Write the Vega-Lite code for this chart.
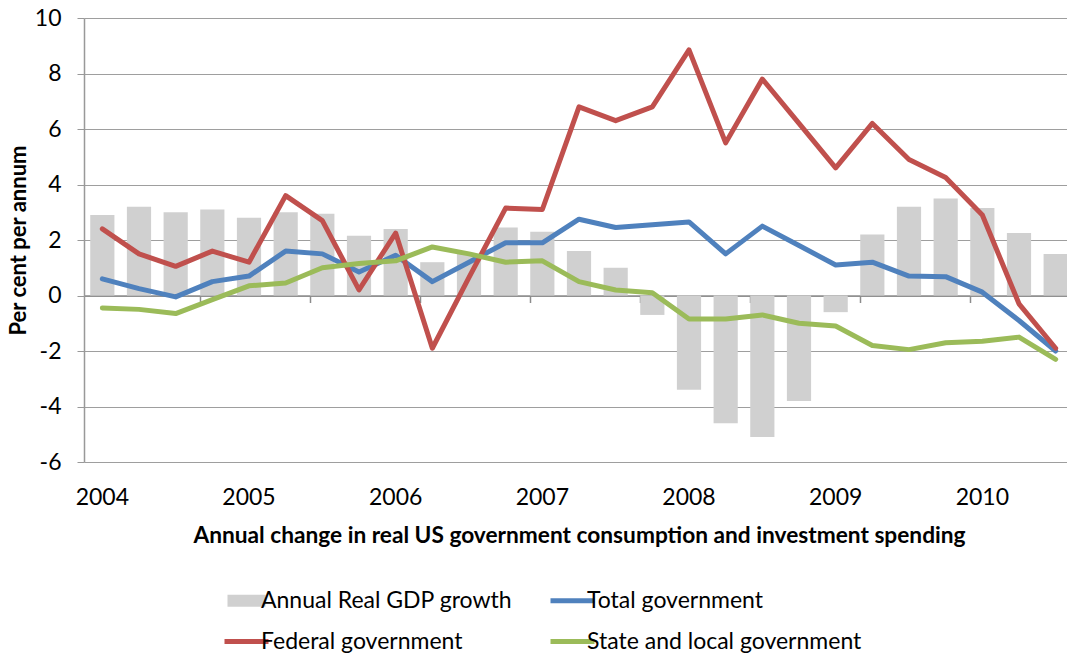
{
  "$schema": "https://vega.github.io/schema/vega-lite/v6.json",
  "width": 990,
  "height": 444,
  "autosize": "none",
  "padding": {"left": 84, "top": 18, "right": -7, "bottom": 195},
  "background": "white",
  "config": {
    "font": "Lato",
    "view": {"stroke": null},
    "axis": {"labelColor": "#000000", "titleColor": "#000000", "labelFont": "Lato", "titleFont": "Lato"}
  },
  "datasets": {
    "gdp": [
      {"quarter": "2004Q1", "series": "Annual Real GDP growth", "value": 2.9},
      {"quarter": "2004Q2", "series": "Annual Real GDP growth", "value": 3.2},
      {"quarter": "2004Q3", "series": "Annual Real GDP growth", "value": 3.0},
      {"quarter": "2004Q4", "series": "Annual Real GDP growth", "value": 3.1},
      {"quarter": "2005Q1", "series": "Annual Real GDP growth", "value": 2.8},
      {"quarter": "2005Q2", "series": "Annual Real GDP growth", "value": 3.0},
      {"quarter": "2005Q3", "series": "Annual Real GDP growth", "value": 2.95},
      {"quarter": "2005Q4", "series": "Annual Real GDP growth", "value": 2.15},
      {"quarter": "2006Q1", "series": "Annual Real GDP growth", "value": 2.4},
      {"quarter": "2006Q2", "series": "Annual Real GDP growth", "value": 1.2},
      {"quarter": "2006Q3", "series": "Annual Real GDP growth", "value": 1.5},
      {"quarter": "2006Q4", "series": "Annual Real GDP growth", "value": 2.45},
      {"quarter": "2007Q1", "series": "Annual Real GDP growth", "value": 2.3},
      {"quarter": "2007Q2", "series": "Annual Real GDP growth", "value": 1.6},
      {"quarter": "2007Q3", "series": "Annual Real GDP growth", "value": 1.0},
      {"quarter": "2007Q4", "series": "Annual Real GDP growth", "value": -0.7},
      {"quarter": "2008Q1", "series": "Annual Real GDP growth", "value": -3.4},
      {"quarter": "2008Q2", "series": "Annual Real GDP growth", "value": -4.6},
      {"quarter": "2008Q3", "series": "Annual Real GDP growth", "value": -5.1},
      {"quarter": "2008Q4", "series": "Annual Real GDP growth", "value": -3.8},
      {"quarter": "2009Q1", "series": "Annual Real GDP growth", "value": -0.6},
      {"quarter": "2009Q2", "series": "Annual Real GDP growth", "value": 2.2},
      {"quarter": "2009Q3", "series": "Annual Real GDP growth", "value": 3.2},
      {"quarter": "2009Q4", "series": "Annual Real GDP growth", "value": 3.5},
      {"quarter": "2010Q1", "series": "Annual Real GDP growth", "value": 3.15},
      {"quarter": "2010Q2", "series": "Annual Real GDP growth", "value": 2.25},
      {"quarter": "2010Q3", "series": "Annual Real GDP growth", "value": 1.5}
    ],
    "gov": [
      {"quarter": "2004Q1", "series": "Total government", "value": 0.6},
      {"quarter": "2004Q2", "series": "Total government", "value": 0.25},
      {"quarter": "2004Q3", "series": "Total government", "value": -0.05},
      {"quarter": "2004Q4", "series": "Total government", "value": 0.5},
      {"quarter": "2005Q1", "series": "Total government", "value": 0.7},
      {"quarter": "2005Q2", "series": "Total government", "value": 1.6},
      {"quarter": "2005Q3", "series": "Total government", "value": 1.5},
      {"quarter": "2005Q4", "series": "Total government", "value": 0.85},
      {"quarter": "2006Q1", "series": "Total government", "value": 1.45},
      {"quarter": "2006Q2", "series": "Total government", "value": 0.5},
      {"quarter": "2006Q3", "series": "Total government", "value": 1.2},
      {"quarter": "2006Q4", "series": "Total government", "value": 1.9},
      {"quarter": "2007Q1", "series": "Total government", "value": 1.9},
      {"quarter": "2007Q2", "series": "Total government", "value": 2.75},
      {"quarter": "2007Q3", "series": "Total government", "value": 2.45},
      {"quarter": "2007Q4", "series": "Total government", "value": 2.55},
      {"quarter": "2008Q1", "series": "Total government", "value": 2.65},
      {"quarter": "2008Q2", "series": "Total government", "value": 1.5},
      {"quarter": "2008Q3", "series": "Total government", "value": 2.5},
      {"quarter": "2008Q4", "series": "Total government", "value": 1.8},
      {"quarter": "2009Q1", "series": "Total government", "value": 1.1},
      {"quarter": "2009Q2", "series": "Total government", "value": 1.2},
      {"quarter": "2009Q3", "series": "Total government", "value": 0.7},
      {"quarter": "2009Q4", "series": "Total government", "value": 0.68},
      {"quarter": "2010Q1", "series": "Total government", "value": 0.12},
      {"quarter": "2010Q2", "series": "Total government", "value": -0.9},
      {"quarter": "2010Q3", "series": "Total government", "value": -2.0},
      {"quarter": "2004Q1", "series": "Federal government", "value": 2.4},
      {"quarter": "2004Q2", "series": "Federal government", "value": 1.5},
      {"quarter": "2004Q3", "series": "Federal government", "value": 1.05},
      {"quarter": "2004Q4", "series": "Federal government", "value": 1.6},
      {"quarter": "2005Q1", "series": "Federal government", "value": 1.2},
      {"quarter": "2005Q2", "series": "Federal government", "value": 3.6},
      {"quarter": "2005Q3", "series": "Federal government", "value": 2.7},
      {"quarter": "2005Q4", "series": "Federal government", "value": 0.2},
      {"quarter": "2006Q1", "series": "Federal government", "value": 2.25},
      {"quarter": "2006Q2", "series": "Federal government", "value": -1.9},
      {"quarter": "2006Q3", "series": "Federal government", "value": 0.65},
      {"quarter": "2006Q4", "series": "Federal government", "value": 3.15},
      {"quarter": "2007Q1", "series": "Federal government", "value": 3.1},
      {"quarter": "2007Q2", "series": "Federal government", "value": 6.8},
      {"quarter": "2007Q3", "series": "Federal government", "value": 6.3},
      {"quarter": "2007Q4", "series": "Federal government", "value": 6.8},
      {"quarter": "2008Q1", "series": "Federal government", "value": 8.85},
      {"quarter": "2008Q2", "series": "Federal government", "value": 5.5},
      {"quarter": "2008Q3", "series": "Federal government", "value": 7.8},
      {"quarter": "2008Q4", "series": "Federal government", "value": 6.2},
      {"quarter": "2009Q1", "series": "Federal government", "value": 4.6},
      {"quarter": "2009Q2", "series": "Federal government", "value": 6.2},
      {"quarter": "2009Q3", "series": "Federal government", "value": 4.9},
      {"quarter": "2009Q4", "series": "Federal government", "value": 4.25},
      {"quarter": "2010Q1", "series": "Federal government", "value": 2.9},
      {"quarter": "2010Q2", "series": "Federal government", "value": -0.3},
      {"quarter": "2010Q3", "series": "Federal government", "value": -1.9},
      {"quarter": "2004Q1", "series": "State and local government", "value": -0.45},
      {"quarter": "2004Q2", "series": "State and local government", "value": -0.5},
      {"quarter": "2004Q3", "series": "State and local government", "value": -0.65},
      {"quarter": "2004Q4", "series": "State and local government", "value": -0.15},
      {"quarter": "2005Q1", "series": "State and local government", "value": 0.35},
      {"quarter": "2005Q2", "series": "State and local government", "value": 0.45},
      {"quarter": "2005Q3", "series": "State and local government", "value": 1.0},
      {"quarter": "2005Q4", "series": "State and local government", "value": 1.15},
      {"quarter": "2006Q1", "series": "State and local government", "value": 1.25},
      {"quarter": "2006Q2", "series": "State and local government", "value": 1.75},
      {"quarter": "2006Q3", "series": "State and local government", "value": 1.5},
      {"quarter": "2006Q4", "series": "State and local government", "value": 1.2},
      {"quarter": "2007Q1", "series": "State and local government", "value": 1.25},
      {"quarter": "2007Q2", "series": "State and local government", "value": 0.5},
      {"quarter": "2007Q3", "series": "State and local government", "value": 0.2},
      {"quarter": "2007Q4", "series": "State and local government", "value": 0.1},
      {"quarter": "2008Q1", "series": "State and local government", "value": -0.85},
      {"quarter": "2008Q2", "series": "State and local government", "value": -0.85},
      {"quarter": "2008Q3", "series": "State and local government", "value": -0.7},
      {"quarter": "2008Q4", "series": "State and local government", "value": -1.0},
      {"quarter": "2009Q1", "series": "State and local government", "value": -1.1},
      {"quarter": "2009Q2", "series": "State and local government", "value": -1.8},
      {"quarter": "2009Q3", "series": "State and local government", "value": -1.95},
      {"quarter": "2009Q4", "series": "State and local government", "value": -1.7},
      {"quarter": "2010Q1", "series": "State and local government", "value": -1.65},
      {"quarter": "2010Q2", "series": "State and local government", "value": -1.5},
      {"quarter": "2010Q3", "series": "State and local government", "value": -2.3}
    ]
  },
  "layer": [
    {
      "data": {"name": "gdp"},
      "mark": {"type": "bar"},
      "encoding": {
        "x": {
          "field": "quarter", "type": "ordinal",
          "scale": {"paddingInner": 0.34, "paddingOuter": 0.17},
          "axis": {
            "orient": "bottom",
            "values": ["2004Q1", "2005Q1", "2006Q1", "2007Q1", "2008Q1", "2009Q1", "2010Q1"],
            "labelExpr": "substring(datum.value, 0, 4)",
            "labelAngle": 0,
            "labelFontSize": 23,
            "labelPadding": 24,
            "ticks": false,
            "domain": false,
            "grid": false,
            "title": "Annual change in real US government consumption and investment spending",
            "titleFontSize": 22.7,
            "titleFontWeight": "bold",
            "titlePadding": 15
          }
        },
        "y": {
          "field": "value", "type": "quantitative",
          "scale": {"domain": [-6, 10], "nice": false},
          "axis": {
            "values": [-6, -4, -2, 0, 2, 4, 6, 8, 10],
            "labelExpr": "'' + datum.value",
            "labelFontSize": 23,
            "labelPadding": 16,
            "tickSize": 7,
            "tickColor": "#999999",
            "domain": true,
            "domainColor": "#999999",
            "domainWidth": 1.5,
            "grid": true,
            "gridColor": "#9E9E9E",
            "gridWidth": 1,
            "title": "Per cent per annum",
            "titleFontSize": 22,
            "titleFontWeight": "bold",
            "titlePadding": 4
          }
        },
        "color": {
          "field": "series", "type": "nominal",
          "scale": {
            "domain": ["Annual Real GDP growth", "Federal government", "Total government", "State and local government"],
            "range": ["#D0D0D0", "#C0504D", "#4F81BD", "#9BBB59"]
          },
          "legend": {
            "orient": "none",
            "legendX": 151,
            "legendY": 571,
            "columns": 2,
            "title": null,
            "labelFontSize": 23,
            "labelFont": "Lato",
            "labelColor": "#000000",
            "labelLimit": 0,
            "symbolSize": 1600,
            "labelOffset": 3,
            "columnPadding": 27,
            "rowPadding": 17,
            "encode": {
              "symbols": {
                "update": {
                  "shape": {"signal": "datum.value === 'Annual Real GDP growth' ? 'M-0.95,-0.3H0.95V0.3H-0.95Z' : 'M-1.1,0H1.1'"},
                  "fill": {"signal": "datum.value === 'Annual Real GDP growth' ? '#D0D0D0' : 'transparent'"},
                  "stroke": {"signal": "datum.value === 'Annual Real GDP growth' ? 'transparent' : (datum.value === 'Total government' ? '#4F81BD' : (datum.value === 'Federal government' ? '#C0504D' : '#9BBB59'))"},
                  "strokeWidth": {"signal": "datum.value === 'Annual Real GDP growth' ? 0 : 5"},
                  "opacity": {"value": 1}
                }
              }
            }
          }
        }
      }
    },
    {
      "data": {"name": "gov"},
      "transform": [{"filter": "datum.series === 'Total government'"}],
      "mark": {"type": "line", "strokeWidth": 5, "strokeJoin": "round", "strokeCap": "round"},
      "encoding": {
        "x": {
          "field": "quarter", "type": "ordinal",
          "axis": {
            "orient": "bottom",
            "offset": -166.5,
            "labels": false,
            "title": null,
            "grid": false,
            "domain": true,
            "domainColor": "#8C8C8C",
            "domainWidth": 1.5,
            "ticks": true,
            "tickSize": 7,
            "tickColor": "#8C8C8C",
            "tickWidth": 1.5,
            "bandPosition": 0,
            "values": ["2004Q4", "2005Q3", "2006Q2", "2007Q1", "2007Q4", "2008Q3", "2009Q2", "2010Q1"]
          }
        },
        "y": {"field": "value", "type": "quantitative"},
        "color": {"field": "series", "type": "nominal"}
      }
    },
    {
      "data": {"name": "gov"},
      "transform": [{"filter": "datum.series === 'Federal government'"}],
      "mark": {"type": "line", "strokeWidth": 5, "strokeJoin": "round", "strokeCap": "round"},
      "encoding": {
        "x": {"field": "quarter", "type": "ordinal", "axis": null},
        "y": {"field": "value", "type": "quantitative"},
        "color": {"field": "series", "type": "nominal"}
      }
    },
    {
      "data": {"name": "gov"},
      "transform": [{"filter": "datum.series === 'State and local government'"}],
      "mark": {"type": "line", "strokeWidth": 5, "strokeJoin": "round", "strokeCap": "round"},
      "encoding": {
        "x": {"field": "quarter", "type": "ordinal", "axis": null},
        "y": {"field": "value", "type": "quantitative"},
        "color": {"field": "series", "type": "nominal"}
      }
    }
  ],
  "resolve": {"axis": {"x": "independent"}}
}
